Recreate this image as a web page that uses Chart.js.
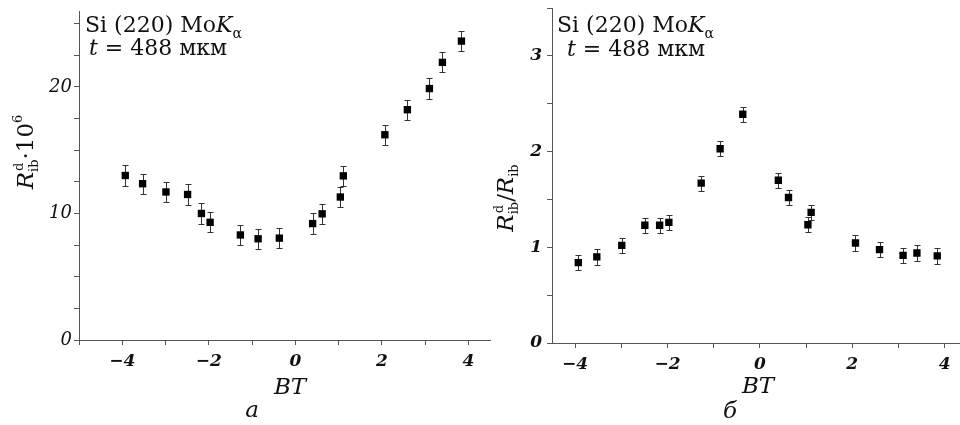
<!DOCTYPE html>
<html>
<head>
<meta charset="utf-8">
<script src="https://cdn.jsdelivr.net/npm/chart.js@4"></script>
<style>
  body { margin: 0; background: #fff; width: 960px; height: 425px; position: relative; overflow: hidden; }
  .panel { position: absolute; top: 0; height: 425px; }
  #left { left: 0; width: 500px; }
  #right { left: 480px; width: 486px; }
</style>
</head>
<body>
<div class="panel" id="left"><canvas id="chartA"></canvas></div>
<div class="panel" id="right"><canvas id="chartB"></canvas></div>
<script>
// BT positions, shared by both panels
const bt = [-3.93, -3.53, -2.99, -2.49, -2.17, -1.97, -1.27, -0.86, -0.37,
  0.40, 0.62, 1.04, 1.11, 2.07, 2.59, 3.10, 3.40, 3.84];

// panel a: R_ib^d * 10^6
const rDiff = [13.0, 12.35, 11.7, 11.5, 10.0, 9.3, 8.3, 8.0, 8.05,
  9.2, 9.97, 11.3, 12.97, 16.22, 18.2, 19.87, 21.94, 23.62];
const rDiffErr = [0.8, 0.8, 0.8, 0.8, 0.8, 0.8, 0.8, 0.8, 0.8,
  0.8, 0.8, 0.8, 0.8, 0.8, 0.8, 0.8, 0.8, 0.8];

// panel б: R_ib^d / R_ib
const rRel = [0.84, 0.9, 1.02, 1.23, 1.23, 1.26, 1.67, 2.03, 2.39,
  1.70, 1.52, 1.235, 1.365, 1.045, 0.975, 0.915, 0.94, 0.91];
const rRelErr = [0.08, 0.08, 0.08, 0.08, 0.08, 0.08, 0.08, 0.08, 0.08,
  0.08, 0.08, 0.08, 0.08, 0.08, 0.08, 0.08, 0.08, 0.08];

const xTickLabels = [-4, -2, 0, 2, 4];
const yTickLabelsA = [0, 10, 20];
const yTickLabelsB = [0, 1, 2, 3];

const F = {
  it: 'italic 23px "DejaVu Serif"',
  up: '23px "DejaVu Serif"',
  sm: '13px "DejaVu Serif"',
  ann: '22px "DejaVu Serif"',
  annIt: 'italic 22px "DejaVu Serif"',
  annSm: '14px "DejaVu Serif"'
};
const axisColor = '#555';
const textColor = '#111';

const round3 = (v) => Math.round(v * 1000) / 1000;
const fmt = (v) => (v < 0 ? '\u2212' + Math.abs(v) : String(v));

const keepSteps = (step) => (scale) => {
  scale.ticks = scale.ticks.filter((t) => Math.abs(t.value / step - Math.round(t.value / step)) < 1e-6);
};

const runWidth = (ctx, r) => {
  if (r.stack) {
    return Math.max(...r.stack.map((s) => { ctx.font = s.f; return ctx.measureText(s.t).width + (s.dx || 0); }));
  }
  ctx.font = r.f;
  return ctx.measureText(r.t).width;
};

const drawRich = (ctx, runs, x, y, align) => {
  const total = runs.reduce((s, r) => s + runWidth(ctx, r), 0);
  let cx = align === 'center' ? x - total / 2 : x;
  ctx.textAlign = 'left';
  ctx.textBaseline = 'alphabetic';
  runs.forEach((r) => {
    (r.stack || [r]).forEach((s) => {
      ctx.font = s.f;
      ctx.fillText(s.t, cx + (s.dx || 0), y + (s.dy || 0));
    });
    cx += runWidth(ctx, r);
  });
};

const errorBars = (errs) => ({
  id: 'errorBars',
  beforeDatasetsDraw(chart) {
    const { ctx, scales: { x, y } } = chart;
    const pts = chart.data.datasets[0].data;
    ctx.save();
    ctx.strokeStyle = '#333';
    ctx.lineWidth = 1;
    pts.forEach((p, i) => {
      const px = Math.round(x.getPixelForValue(p.x)) + 0.5;
      const top = Math.round(y.getPixelForValue(p.y + errs[i])) + 0.5;
      const bot = Math.round(y.getPixelForValue(p.y - errs[i])) + 0.5;
      ctx.beginPath();
      ctx.moveTo(px, top); ctx.lineTo(px, bot);
      ctx.moveTo(px - 3, top); ctx.lineTo(px + 3, top);
      ctx.moveTo(px - 3, bot); ctx.lineTo(px + 3, bot);
      ctx.stroke();
    });
    ctx.restore();
  }
});

const decor = (draw) => ({
  id: 'decor',
  afterDraw(chart) {
    const ctx = chart.ctx;
    ctx.save();
    ctx.fillStyle = textColor;
    draw(ctx);
    ctx.restore();
  }
});

const makeChart = (id, values, errs, cfg) => new Chart(document.getElementById(id), {
  type: 'scatter',
  data: {
    datasets: [{
      data: bt.map((v, i) => ({ x: v, y: values[i] })),
      pointStyle: 'rect',
      pointRadius: 5.2,
      pointHoverRadius: 5.2,
      backgroundColor: '#000',
      borderColor: '#000',
      borderWidth: 0
    }]
  },
  options: {
    responsive: true,
    maintainAspectRatio: false,
    animation: false,
    events: [],
    layout: { padding: cfg.padding },
    plugins: { legend: { display: false }, tooltip: { enabled: false } },
    scales: {
      x: {
        type: 'linear',
        min: cfg.xMin,
        max: cfg.xMax,
        afterBuildTicks: keepSteps(1),
        afterFit: (s) => { s.height = cfg.xHeight; s.paddingLeft = 0; s.paddingRight = 0; },
        grid: { drawOnChartArea: false, tickLength: 5, color: axisColor },
        border: { color: axisColor, width: 1 },
        ticks: {
          stepSize: 1,
          includeBounds: false,
          autoSkip: false,
          maxRotation: 0,
          padding: cfg.xPad,
          color: textColor,
          font: { family: 'DejaVu Serif', style: 'italic', weight: 'bold', size: 17 },
          callback: (v) => (xTickLabels.includes(round3(v)) ? fmt(round3(v)) : '')
        }
      },
      y: {
        type: 'linear',
        min: 0,
        max: cfg.yMax,
        afterBuildTicks: keepSteps(cfg.yStep),
        afterFit: (s) => { s.width = cfg.yWidth; s.paddingTop = 0; s.paddingBottom = 0; },
        grid: { drawOnChartArea: false, tickLength: 5, color: axisColor },
        border: { color: axisColor, width: 1 },
        ticks: {
          stepSize: cfg.yStep,
          includeBounds: false,
          autoSkip: false,
          padding: cfg.yPad,
          color: textColor,
          font: { family: 'DejaVu Serif', style: 'italic', weight: cfg.yWeight, size: cfg.ySize },
          callback: (v) => (cfg.yLabels.includes(round3(v)) ? fmt(round3(v)) : '')
        }
      }
    }
  },
  plugins: [errorBars(errs), decor(cfg.draw)]
});

const annotation = (ctx, x1, y1, x2, y2) => {
  drawRich(ctx, [
    { t: 'Si (220) Mo', f: F.ann },
    { t: 'K', f: F.annIt },
    { t: '\u03b1', f: F.annSm, dy: 6 }
  ], x1, y1);
  drawRich(ctx, [
    { t: 't', f: F.annIt },
    { t: ' = 488 мкм', f: F.ann }
  ], x2, y2);
};

const rSymbol = [
  { t: 'R', f: F.it },
  { stack: [{ t: 'd', f: F.sm, dy: -10, dx: 1 }, { t: 'ib', f: F.sm, dy: 5 }] }
];

makeChart('chartA', rDiff, rDiffErr, {
  padding: { top: 11, right: 10, left: 0, bottom: 0 },
  xMin: -5, xMax: 4.5, xHeight: 85, xPad: 6,
  yMax: 26, yStep: 2.5, yWidth: 79, yPad: 2, yLabels: yTickLabelsA, yWeight: 'normal', ySize: 18,
  draw: (ctx) => {
    annotation(ctx, 85, 32, 89, 55);
    ctx.save();
    ctx.translate(33, 152);
    ctx.rotate(-Math.PI / 2);
    drawRich(ctx, [...rSymbol, { t: '\u00b710', f: F.up }, { t: '6', f: F.sm, dy: -11 }], 0, 0, 'center');
    ctx.restore();
    drawRich(ctx, [{ t: 'BT', f: F.it }], 290, 394, 'center');
    drawRich(ctx, [{ t: 'а', f: 'italic 23px "DejaVu Serif"' }], 252, 417, 'center');
  }
});

makeChart('chartB', rRel, rRelErr, {
  padding: { top: 8, right: 0, left: 0, bottom: 0 },
  xMin: -4.5, xMax: 4.35, xHeight: 82, xPad: 6,
  yMax: 3.5, yStep: 0.5, yWidth: 72, yPad: 5, yLabels: yTickLabelsB, yWeight: 'bold', ySize: 17,
  draw: (ctx) => {
    annotation(ctx, 77, 32, 87, 56);
    ctx.save();
    ctx.translate(33, 198);
    ctx.rotate(-Math.PI / 2);
    drawRich(ctx, [...rSymbol, { t: '/', f: F.up }, { t: 'R', f: F.it }, { t: 'ib', f: F.sm, dy: 5 }], 0, 0, 'center');
    ctx.restore();
    drawRich(ctx, [{ t: 'BT', f: F.it }], 278, 393, 'center');
    drawRich(ctx, [{ t: 'б', f: 'italic 23px "DejaVu Serif"' }], 250, 418, 'center');
  }
});
</script>
</body>
</html>
